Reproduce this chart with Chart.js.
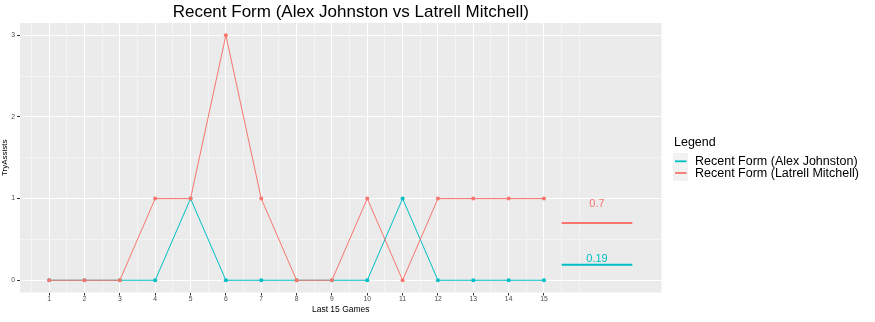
<!DOCTYPE html>
<html>
<head>
<meta charset="utf-8">
<title>Recent Form</title>
<script src="https://cdn.jsdelivr.net/npm/chart.js@4/dist/chart.umd.min.js"></script>
<style>
  html, body { margin: 0; padding: 0; background: #fff; }
  canvas { display: block; }
</style>
</head>
<body>
<canvas id="form-chart" width="875" height="322"></canvas>
<script>
// ---- data ----
const games = [1, 2, 3, 4, 5, 6, 7, 8, 9, 10, 11, 12, 13, 14, 15];
const alexAssists = [0, 0, 0, 0, 1, 0, 0, 0, 0, 0, 1, 0, 0, 0, 0];
const latrellAssists = [0, 0, 0, 1, 1, 3, 1, 0, 0, 1, 0, 1, 1, 1, 1];
const seriesNames = ['Recent Form (Alex Johnston)', 'Recent Form (Latrell Mitchell)'];
const seriesColors = ['#00BFC4', '#F8766D'];
const averages = [0.19, 0.7];          // season average per player
const averageLabelY = [0.26, 0.93];    // where the average text sits
const averageSpan = [15.5, 17.5];      // x extent of the average bars
const xMinorTicks = [0.5, 1.5, 2.5, 3.5, 4.5, 5.5, 6.5, 7.5, 8.5, 9.5, 10.5, 11.5, 12.5, 13.5, 14.5, 15.5, 16];
const yMajorTicks = [0, 1, 2, 3];
const yMinorTicks = [0.5, 1.5, 2.5];
const chartTitle = 'Recent Form (Alex Johnston vs Latrell Mitchell)';
const legendTitle = 'Legend';

const FONT = '"Liberation Sans", Arial, Helvetica, sans-serif';

const toPoints = (xs, ys) => xs.map((x, i) => ({ x, y: ys[i] }));
const isMajorX = v => games.includes(v);
const isMajorY = v => yMajorTicks.includes(v);

// grey panel behind the grid
const panelBackground = {
    id: 'panelBackground',
    beforeDraw(chart) {
        const { ctx, chartArea: a } = chart;
        ctx.save();
        ctx.fillStyle = '#EBEBEB';
        ctx.fillRect(a.left, a.top, a.right - a.left, a.bottom - a.top);
        ctx.restore();
    }
};

// title, average labels and legend
const overlayText = {
    id: 'overlayText',
    afterDatasetsDraw(chart) {
        const { ctx, scales: { x, y }, chartArea: a } = chart;
        ctx.save();

        ctx.font = '11px ' + FONT;
        ctx.textAlign = 'center';
        ctx.textBaseline = 'middle';
        const midX = x.getPixelForValue((averageSpan[0] + averageSpan[1]) / 2);
        averages.forEach((v, i) => {
            ctx.fillStyle = seriesColors[i];
            ctx.fillText(String(v), midX, y.getPixelForValue(averageLabelY[i]));
        });

        ctx.fillStyle = '#000';
        ctx.font = '17px ' + FONT;
        ctx.textBaseline = 'alphabetic';
        ctx.fillText(chartTitle, (a.left + a.right) / 2 + 10, 17);

        // legend box
        ctx.textAlign = 'left';
        ctx.font = '12.5px ' + FONT;
        ctx.fillText(legendTitle, 674, 146);
        ctx.fillStyle = '#F2F2F2';
        ctx.fillRect(673, 153, 15, 28);
        seriesNames.forEach((name, i) => {
            const ly = 161.3 + i * 11.7;
            ctx.strokeStyle = seriesColors[i];
            ctx.lineWidth = 1.8;
            ctx.beginPath();
            ctx.moveTo(675, ly);
            ctx.lineTo(686.5, ly);
            ctx.stroke();
            ctx.fillStyle = '#000';
            ctx.fillText(name, 695, 164.8 + i * 12.5);
        });
        ctx.restore();
    }
};

const lineStyle = color => ({
    borderColor: color,
    backgroundColor: color,
    borderWidth: 1,
    pointRadius: 2,
    pointBorderWidth: 0,
    pointBackgroundColor: color,
    tension: 0,
    fill: false
});

new Chart(document.getElementById('form-chart'), {
    type: 'line',
    data: {
        datasets: [
            { label: seriesNames[0], data: toPoints(games, alexAssists), order: 2, ...lineStyle(seriesColors[0]) },
            { label: seriesNames[1], data: toPoints(games, latrellAssists), order: 1, ...lineStyle(seriesColors[1]) },
            { label: 'avg-alex', data: toPoints(averageSpan, [averages[0], averages[0]]), order: 3,
              borderColor: seriesColors[0], borderWidth: 2, pointRadius: 0 },
            { label: 'avg-latrell', data: toPoints(averageSpan, [averages[1], averages[1]]), order: 3,
              borderColor: seriesColors[1], borderWidth: 2, pointRadius: 0 }
        ]
    },
    options: {
        responsive: false,
        devicePixelRatio: 1,
        animation: false,
        events: [],
        layout: { padding: { top: 23, right: 213.5, left: 0, bottom: 0 } },
        plugins: {
            legend: { display: false },
            title: { display: false },
            tooltip: { enabled: false }
        },
        scales: {
            x: {
                type: 'linear',
                min: 0.175,
                max: 18.325,
                afterBuildTicks: s => {
                    s.ticks = [...games, ...xMinorTicks].sort((p, q) => p - q).map(v => ({ value: v }));
                },
                afterFit: s => { s.height = 29.5; },
                border: { display: false },
                grid: {
                    color: c => isMajorX(c.tick.value) ? '#FFFFFF' : '#F4F4F4',
                    lineWidth: 1,
                    drawTicks: true,
                    tickLength: 3,
                    tickColor: c => isMajorX(c.tick.value) ? '#333333' : 'rgba(0,0,0,0)'
                },
                ticks: {
                    autoSkip: false,
                    maxRotation: 0,
                    padding: 0,
                    color: '#4D4D4D',
                    font: { size: 6.8, family: FONT },
                    callback: v => isMajorX(v) ? String(v) : ''
                },
                title: {
                    display: true,
                    text: 'Last 15 Games',
                    color: '#000',
                    font: { size: 8.5, family: FONT },
                    padding: { top: 0, bottom: 7 }
                }
            },
            y: {
                type: 'linear',
                min: -0.15,
                max: 3.15,
                afterBuildTicks: s => {
                    s.ticks = [...yMajorTicks, ...yMinorTicks].sort((p, q) => p - q).map(v => ({ value: v }));
                },
                afterFit: s => { s.width = 20; },
                border: { display: false },
                grid: {
                    color: c => isMajorY(c.tick.value) ? '#FFFFFF' : '#F4F4F4',
                    lineWidth: 1,
                    drawTicks: true,
                    tickLength: 3,
                    tickColor: c => isMajorY(c.tick.value) ? '#333333' : 'rgba(0,0,0,0)'
                },
                ticks: {
                    autoSkip: false,
                    padding: 2,
                    color: '#4D4D4D',
                    font: { size: 6.8, family: FONT },
                    callback: v => isMajorY(v) ? String(v) : ''
                },
                title: {
                    display: true,
                    text: 'TryAssists',
                    color: '#000',
                    font: { size: 8, family: FONT },
                    padding: { top: 0, bottom: 0 }
                }
            }
        }
    },
    plugins: [panelBackground, overlayText]
});
</script>
</body>
</html>
